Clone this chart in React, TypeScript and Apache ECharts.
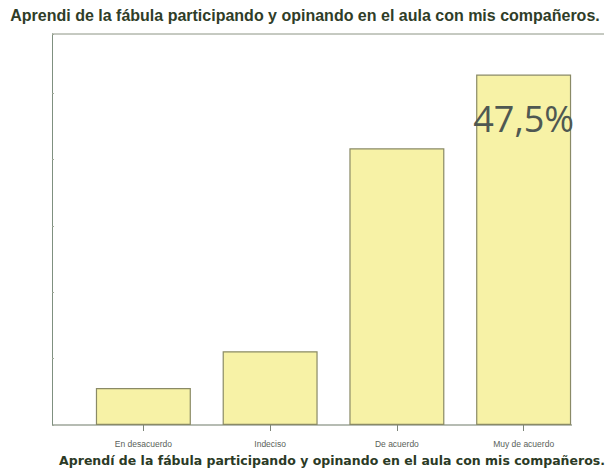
import React, { useEffect, useRef } from "react";
import * as echarts from "echarts";

const TITLE = "Aprendi de la fábula participando y opinando en el aula con mis compañeros.";
const BOTTOM_TITLE = "Aprendí de la fábula participando y opinando en el aula con mis compañeros.";
const categories = ["En desacuerdo", "Indeciso", "De acuerdo", "Muy de acuerdo"];
const percentages = [5, 10, 37.5, 47.5];
const labelledIndex = 3;
const labelText = "47,5%";

export default function App() {
  const ref = useRef<HTMLDivElement>(null);
  useEffect(() => {
    if (!ref.current) return;
    const chart = echarts.init(ref.current, undefined, { renderer: "svg" });
    const frameColor = "#8c9484";
    chart.setOption({
      animation: false,
      backgroundColor: "#ffffff",
      grid: { left: 80, top: 34, width: 507, height: 391, containLabel: false },
      xAxis: {
        type: "category",
        data: categories,
        boundaryGap: true,
        axisLine: { show: false },
        axisTick: { show: true, alignWithLabel: true, length: 6, lineStyle: { color: "#7d8578" } },
        axisLabel: { fontSize: 8.5, color: "#5a5f5a", margin: 14, fontFamily: "Liberation Sans" },
      },
      yAxis: {
        type: "value",
        min: 0,
        max: 53,
        interval: 9,
        offset: 28,
        axisLine: { show: true, lineStyle: { color: "#7f9080", width: 1 } },
        axisTick: { show: true, length: 2, inside: true, lineStyle: { color: "#a0aa9a" } },
        axisLabel: { show: false },
        splitLine: { show: false },
      },
      series: [
        {
          type: "bar",
          barWidth: 95,
          data: percentages.map((v, i) =>
            i === labelledIndex
              ? {
                  value: v,
                  label: {
                    show: true,
                    position: "insideTop",
                    distance: 26,
                    formatter: labelText,
                    fontSize: 36,
                    fontFamily: "Open Sans",
                    color: "#4f5852",
                  },
                }
              : v
          ),
          itemStyle: { color: "#f7f2a6", borderColor: "#8a8a66", borderWidth: 1.2 },
        },
      ],
      graphic: [
        {
          type: "line",
          shape: { x1: 52, y1: 34, x2: 604, y2: 34 },
          style: { stroke: frameColor, lineWidth: 1 },
        },
        {
          type: "line",
          shape: { x1: 52, y1: 425, x2: 572, y2: 425 },
          style: { stroke: "#6f7a68", lineWidth: 1.2 },
        },
        {
          type: "text",
          x: 305,
          y: 15,
          style: {
            text: TITLE,
            fontSize: 16,
            fontWeight: "bold",
            fontFamily: "Liberation Sans",
            fill: "#2f3d28",
            align: "center",
            verticalAlign: "middle",
          },
        },
        {
          type: "text",
          x: 332,
          y: 460,
          style: {
            text: BOTTOM_TITLE,
            fontSize: 12.5,
            fontWeight: "bold",
            fontFamily: "DejaVu Sans",
            fill: "#2b3a25",
            align: "center",
            verticalAlign: "middle",
          },
        },
      ],
    });
    return () => chart.dispose();
  }, []);
  return <div ref={ref} style={{ width: 610, height: 471, position: "absolute", left: 0, top: 0 }} />;
}
